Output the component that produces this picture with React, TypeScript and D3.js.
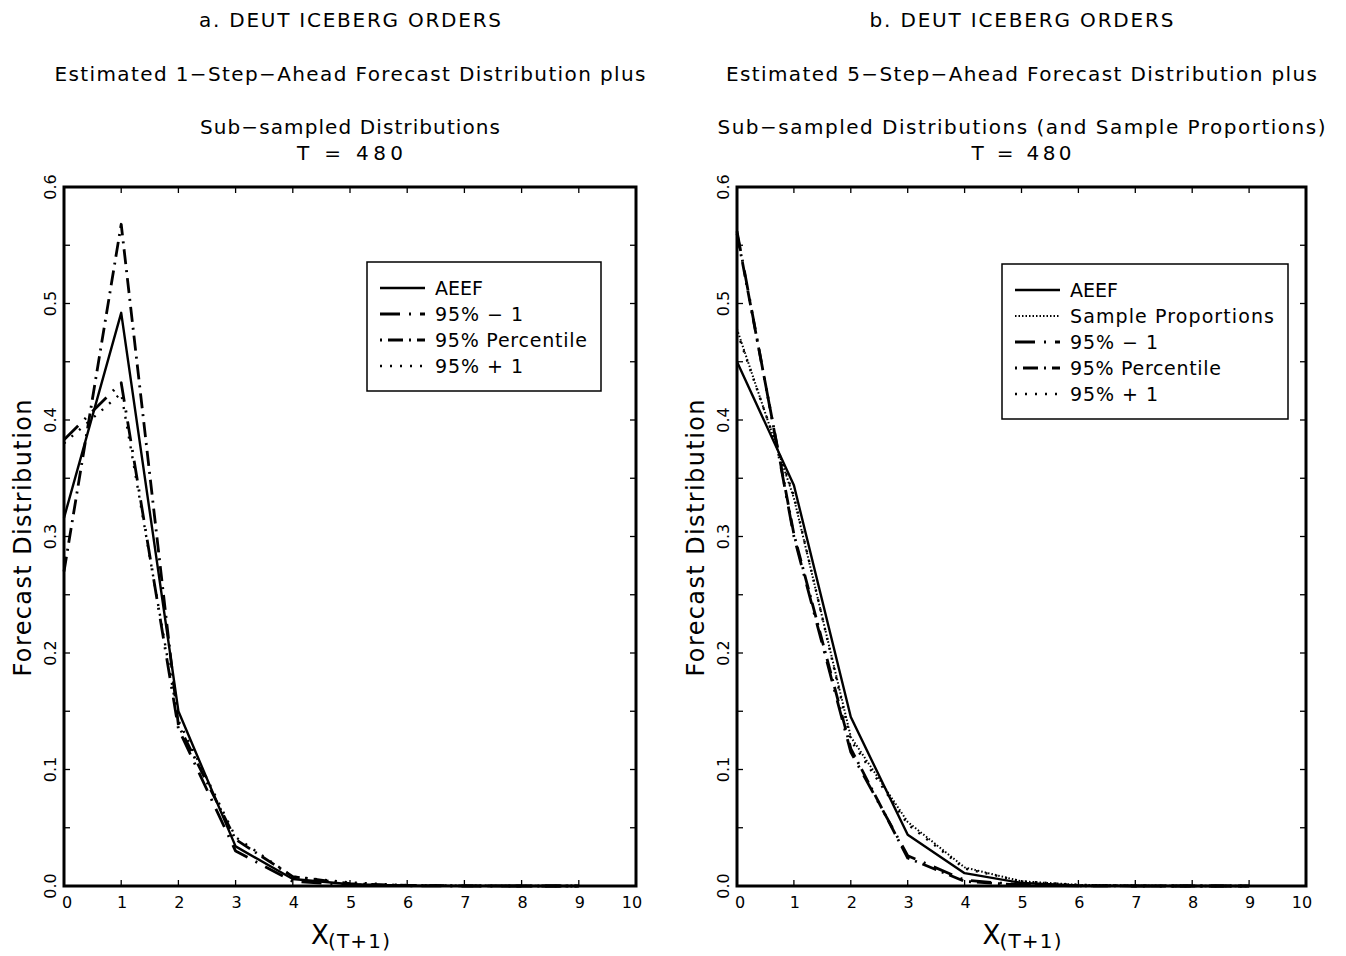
import React from "react";
import * as d3 from "d3";

// ---------- data ----------
const xValues = [0, 1, 2, 3, 4, 5, 6, 7, 8, 9];

// Panel a (1-step-ahead)
const aAEEF = [0.316, 0.492, 0.15, 0.034, 0.006, 0.0015, 0.0003, 0.0001, 0, 0];
const aMinus1 = [0.383, 0.432, 0.135, 0.03, 0.004, 0.001, 0.0002, 0, 0, 0];
const aPercentile = [0.27, 0.568, 0.138, 0.04, 0.008, 0.002, 0.0005, 0.0001, 0, 0];
const aPlus1 = [0.38, 0.423, 0.142, 0.042, 0.008, 0.003, 0.0007, 0.0002, 0.0001, 0];

// Panel b (5-step-ahead)
const bAEEF = [0.45, 0.344, 0.145, 0.044, 0.011, 0.0026, 0.0005, 0.0001, 0, 0];
const bSample = [0.478, 0.333, 0.128, 0.055, 0.016, 0.004, 0.001, 0.0003, 0.0001, 0];
const bMinus1 = [0.562, 0.3, 0.115, 0.026, 0.005, 0.001, 0.0002, 0, 0, 0];
const bPercentile = [0.56, 0.302, 0.118, 0.024, 0.004, 0.0008, 0.0001, 0, 0, 0];
const bPlus1 = [0.476, 0.335, 0.125, 0.053, 0.015, 0.004, 0.001, 0.0002, 0, 0];

const xTicks = [0, 1, 2, 3, 4, 5, 6, 7, 8, 9, 10];
const yTicks = [0, 0.1, 0.2, 0.3, 0.4, 0.5, 0.6];
const yMinorTicks = [0.05, 0.1, 0.15, 0.2, 0.25, 0.3, 0.35, 0.4, 0.45, 0.5, 0.55];

const titlesA = [
  "a. DEUT ICEBERG ORDERS",
  "Estimated 1\u2212Step\u2212Ahead Forecast Distribution plus",
  "Sub\u2212sampled Distributions",
  "T = 480",
];
const titlesB = [
  "b. DEUT ICEBERG ORDERS",
  "Estimated 5\u2212Step\u2212Ahead Forecast Distribution plus",
  "Sub\u2212sampled Distributions (and Sample Proportions)",
  "T = 480",
];

// ---------- styles ----------
const FONT = "'DejaVu Sans', sans-serif";
const styles: Record<string, { dash: string; width: number; cap: string; legendOffset: number }> = {
  aeef: { dash: "none", width: 2.4, cap: "butt", legendOffset: 0 },
  minus1: { dash: "20 9 2 9", width: 2.8, cap: "butt", legendOffset: 0 },
  percentile: { dash: "15 6 2 6", width: 2.8, cap: "butt", legendOffset: 21 },
  plus1: { dash: "2 8", width: 2.4, cap: "butt", legendOffset: 0 },
  sample: { dash: "1.5 2", width: 2, cap: "butt", legendOffset: 0 },
};

type Series = { key: string; label: string; values: number[] };

const seriesA: Series[] = [
  { key: "aeef", label: "AEEF", values: aAEEF },
  { key: "minus1", label: "95% \u2212 1", values: aMinus1 },
  { key: "percentile", label: "95% Percentile", values: aPercentile },
  { key: "plus1", label: "95% + 1", values: aPlus1 },
];
const seriesB: Series[] = [
  { key: "aeef", label: "AEEF", values: bAEEF },
  { key: "sample", label: "Sample Proportions", values: bSample },
  { key: "minus1", label: "95% \u2212 1", values: bMinus1 },
  { key: "percentile", label: "95% Percentile", values: bPercentile },
  { key: "plus1", label: "95% + 1", values: bPlus1 },
];

const legendWidthsA = [48, 88, 152, 88];
const legendWidthsB = [48, 204, 88, 151, 88];

const titleLenA = [302, 591, 300, 106];
const titleLenB = [304, 591, 608, 100];

type PanelProps = {
  x0: number;
  x1: number;
  titles: string[];
  titleLens: number[];
  series: Series[];
  legend: { x: number; y: number; w: number; h: number; widths: number[] };
};

function Panel({ x0, x1, titles, titleLens, series, legend }: PanelProps) {
  const top = 187;
  const bottom = 886;
  const xs = d3.scaleLinear().domain([0, 10]).range([x0, x1]);
  const ys = d3.scaleLinear().domain([0, 0.6]).range([bottom, top]);
  const cx = (x0 + x1) / 2;
  const line = d3
    .line<number>()
    .x((_, i) => xs(xValues[i]))
    .y((d) => ys(d));
  const titleY = [27, 81, 134, 160];
  const tl = 6;
  return (
    <g>
      {titles.map((t, i) => (
        <text
          key={i}
          x={cx}
          y={titleY[i]}
          textAnchor="middle"
          fontFamily={FONT}
          fontSize={20}
          textLength={titleLens[i]}
          lengthAdjust="spacing"
        >
          {t}
        </text>
      ))}
      {/* series */}
      {series.map((s) => {
        const st = styles[s.key];
        return (
          <path
            key={s.key}
            d={line(s.values) || ""}
            fill="none"
            stroke="#000"
            strokeWidth={st.width}
            strokeDasharray={st.dash}
            strokeLinecap={st.cap as any}
            strokeLinejoin="round"
          />
        );
      })}
      {/* frame */}
      <rect x={x0} y={top} width={x1 - x0} height={bottom - top} fill="none" stroke="#000" strokeWidth={3} />
      {/* x ticks */}
      {xTicks.map((t) => (
        <g key={"xt" + t}>
          <line x1={xs(t)} x2={xs(t)} y1={bottom} y2={bottom - tl} stroke="#000" strokeWidth={1.3} />
          <line x1={xs(t)} x2={xs(t)} y1={top} y2={top + tl} stroke="#000" strokeWidth={1.3} />
          <text
            x={xs(t) + (t === 0 ? 3 : t === 10 ? -4 : 1)}
            y={908}
            textAnchor="middle"
            fontFamily={FONT}
            fontSize={16}
          >
            {String(t)}
          </text>
        </g>
      ))}
      {/* y ticks */}
      {yMinorTicks.map((t) => (
        <g key={"yt" + t}>
          <line x1={x0} x2={x0 + tl} y1={ys(t)} y2={ys(t)} stroke="#000" strokeWidth={1.3} />
          <line x1={x1} x2={x1 - tl} y1={ys(t)} y2={ys(t)} stroke="#000" strokeWidth={1.3} />
        </g>
      ))}
      {yTicks.map((t) => (
        <text
          key={"yl" + t}
          transform={`translate(${x0 - 8},${ys(t)}) rotate(-90)`}
          textAnchor="middle"
          fontFamily={FONT}
          fontSize={16}
        >
          {d3.format(".1f")(t)}
        </text>
      ))}
      {/* axis titles */}
      <text
        transform={`translate(${x0 - 33},538) rotate(-90)`}
        textAnchor="middle"
        fontFamily={FONT}
        fontSize={24}
        textLength={277}
        lengthAdjust="spacing"
      >
        Forecast Distribution
      </text>
      <text x={cx - 39} y={944} fontFamily={FONT} fontSize={26}>
        X
      </text>
      <text x={cx - 22} y={948} fontFamily={FONT} fontSize={20} textLength={62} lengthAdjust="spacing">
        (T+1)
      </text>
      {/* legend */}
      <rect x={legend.x} y={legend.y} width={legend.w} height={legend.h} fill="#fff" stroke="#000" strokeWidth={1.5} />
      {series.map((s, i) => {
        const st = styles[s.key];
        const yy = legend.y + 26 + i * 26;
        return (
          <g key={"lg" + s.key}>
            <line
              x1={legend.x + 13}
              x2={legend.x + 58}
              y1={yy}
              y2={yy}
              stroke="#000"
              strokeWidth={st.width}
              strokeDasharray={st.dash}
              strokeDashoffset={st.legendOffset}
            />
            <text
              x={legend.x + 68}
              y={yy + 7}
              fontFamily={FONT}
              fontSize={19}
              textLength={legend.widths[i]}
              lengthAdjust="spacing"
            >
              {s.label}
            </text>
          </g>
        );
      })}
    </g>
  );
}

export default function App() {
  return (
    <svg
      width={1346}
      height={956}
      style={{ position: "absolute", left: 0, top: 0, background: "#fff" }}
    >
      <rect width={1346} height={956} fill="#fff" />
      <Panel
        x0={64}
        x1={636}
        titles={titlesA}
        titleLens={titleLenA}
        series={seriesA}
        legend={{ x: 367, y: 262, w: 234, h: 129, widths: legendWidthsA }}
      />
      <Panel
        x0={737}
        x1={1306}
        titles={titlesB}
        titleLens={titleLenB}
        series={seriesB}
        legend={{ x: 1002, y: 264, w: 286, h: 155, widths: legendWidthsB }}
      />
    </svg>
  );
}
